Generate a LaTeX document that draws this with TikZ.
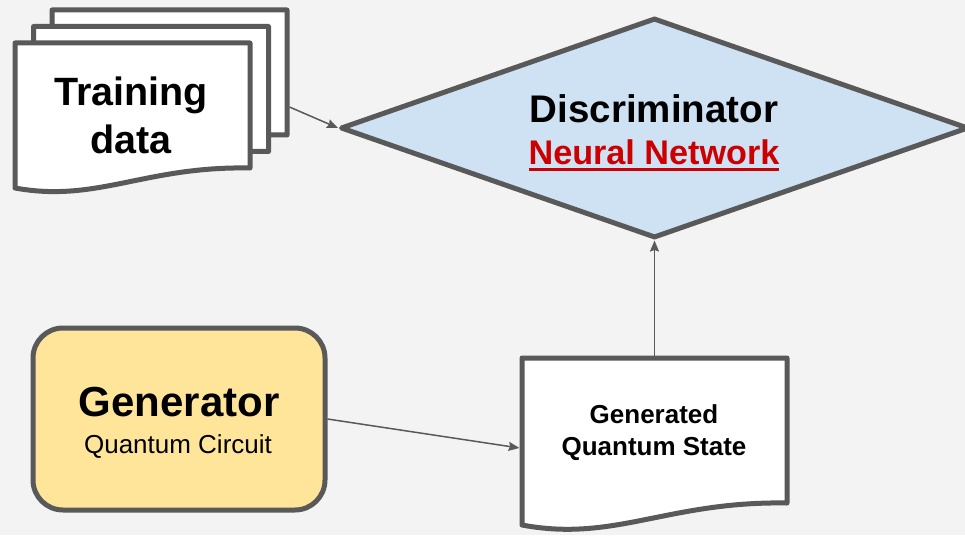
\documentclass[tikz,border=0pt]{standalone}
\usepackage{fontspec}
\setmainfont{Liberation Sans}
\usetikzlibrary{arrows.meta,shapes.geometric}

\definecolor{bg}{HTML}{F3F3F3}
\definecolor{edge}{HTML}{595959}
\definecolor{discfill}{HTML}{CFE2F3}
\definecolor{genfill}{HTML}{FFE599}
\definecolor{nnred}{HTML}{CC0000}

\tikzset{
  shapeline/.style={draw=edge, line width=5pt, line join=round},
  anchorbox/.style={draw=none, inner sep=0pt, outer sep=2.5pt},
  link/.style={draw=edge, line width=1.5pt, -{Stealth[length=11pt,width=9pt,inset=1.5pt]}},
  txt/.style={inner sep=0pt, anchor=base, text=black},
}

% thick underline set a few points below the baseline
\newsavebox{\ulbox}
\newcommand{\thickul}[1]{\leavevmode\sbox{\ulbox}{#1}\rlap{\rule[-6.5pt]{\wd\ulbox}{3pt}}\usebox{\ulbox}}

% document symbol: left, top, right, bottom-right, bottom-left
\newcommand{\docoutline}[5]{%
  \path[shapeline, fill=white] (#1,#2) -- (#3,#2) -- (#3,#4)
    .. controls ({#1+0.55*(#3-#1)},{#4-2}) and ({#1+0.35*(#3-#1)},{#5+0.12*(#4-#2)}) .. (#1,#5) -- cycle;}

\begin{document}
\begin{tikzpicture}[x=1pt,y=-1pt]
\useasboundingbox[fill=bg] (0,0) rectangle (965,535);

% training data stack, back to front
\docoutline{52}{10}{287}{135}{155}
\docoutline{33.5}{26.5}{268.5}{151.5}{171.5}
\docoutline{15}{43}{250}{168}{188}
\node[anchorbox, minimum width=235pt, minimum height=194pt] (tdback) at (169.5,107) {};
\node[txt, font=\fontsize{39.5}{48}\selectfont\bfseries] (td1) at (131,105) {Training};
\node[txt, font=\fontsize{39.5}{48}\selectfont\bfseries] (td2) at (131,153) {data};

% discriminator
\node[diamond, shapeline, fill=discfill, minimum width=628pt, minimum height=220pt, inner sep=0pt] (disc) at (654.5,128) {};
\node[txt, font=\fontsize{38.5}{46}\selectfont\bfseries] (disct) at (654,122) {Discriminator};
\node[txt, text=nnred, font=\fontsize{34.2}{40}\selectfont\bfseries] (discs) at (654,164) {\thickul{Neural Network}};

% generator
\node[rectangle, rounded corners=30pt, shapeline, fill=genfill, minimum width=292pt, minimum height=182pt, inner sep=0pt] (gen) at (179,419) {};
\node[txt, font=\fontsize{42}{48}\selectfont\bfseries] (gent) at (179,416) {Generator};
\node[txt, font=\fontsize{26}{32}\selectfont] (gens) at (178,453) {Quantum Circuit};

% generated quantum state
\docoutline{522}{358}{787}{503}{525}
\node[anchorbox, minimum width=265pt, minimum height=180pt] (gqs) at (654.5,448) {};
\node[txt, font=\fontsize{26}{32}\selectfont\bfseries] (gqs1) at (654,423) {Generated};
\node[txt, font=\fontsize{26}{32}\selectfont\bfseries] (gqs2) at (654,455) {Quantum State};

% connectors
\draw[link] (tdback.east) -- (disc.west);
\draw[link] (gen.east) -- (gqs.west);
\draw[link] (gqs.north) -- (disc.south);
\end{tikzpicture}
\end{document}
